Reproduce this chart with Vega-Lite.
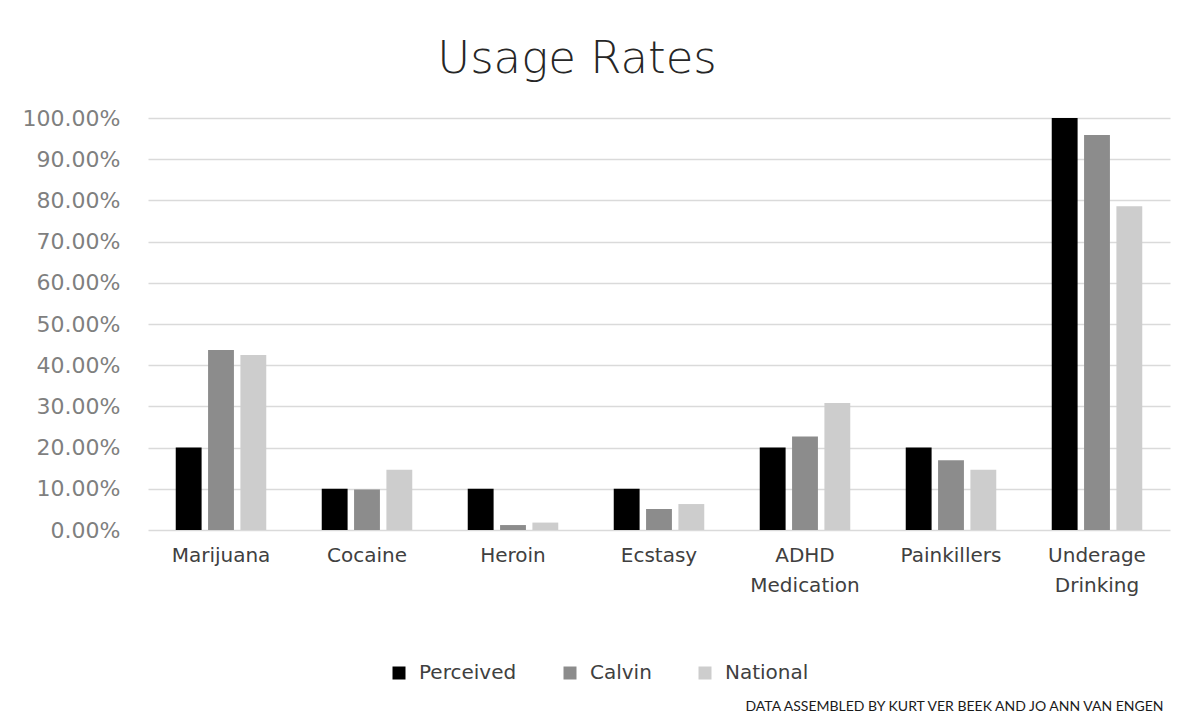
{
  "$schema": "https://vega.github.io/schema/vega-lite/v6.json",
  "autosize": {"type": "none"},
  "padding": {"left": 148, "top": 118, "right": 11, "bottom": 192},
  "width": 1022,
  "height": 412,
  "background": "white",
  "title": {
    "text": "Usage Rates",
    "font": "DejaVu Sans",
    "fontWeight": 200,
    "fontSize": 45,
    "color": "#262626",
    "anchor": "middle",
    "dx": -82,
    "baseline": "alphabetic",
    "offset": -11
  },
  "data": {
    "values": [
      {"drug": "Marijuana", "group": "Perceived", "rate": 0.20},
      {"drug": "Marijuana", "group": "Calvin", "rate": 0.437},
      {"drug": "Marijuana", "group": "National", "rate": 0.425},
      {"drug": "Cocaine", "group": "Perceived", "rate": 0.10},
      {"drug": "Cocaine", "group": "Calvin", "rate": 0.098},
      {"drug": "Cocaine", "group": "National", "rate": 0.146},
      {"drug": "Heroin", "group": "Perceived", "rate": 0.10},
      {"drug": "Heroin", "group": "Calvin", "rate": 0.012},
      {"drug": "Heroin", "group": "National", "rate": 0.018},
      {"drug": "Ecstasy", "group": "Perceived", "rate": 0.10},
      {"drug": "Ecstasy", "group": "Calvin", "rate": 0.051},
      {"drug": "Ecstasy", "group": "National", "rate": 0.063},
      {"drug": "ADHD Medication", "group": "Perceived", "rate": 0.20},
      {"drug": "ADHD Medication", "group": "Calvin", "rate": 0.227},
      {"drug": "ADHD Medication", "group": "National", "rate": 0.308},
      {"drug": "Painkillers", "group": "Perceived", "rate": 0.20},
      {"drug": "Painkillers", "group": "Calvin", "rate": 0.169},
      {"drug": "Painkillers", "group": "National", "rate": 0.146},
      {"drug": "Underage Drinking", "group": "Perceived", "rate": 1.0},
      {"drug": "Underage Drinking", "group": "Calvin", "rate": 0.959},
      {"drug": "Underage Drinking", "group": "National", "rate": 0.786}
    ]
  },
  "mark": {"type": "bar"},
  "encoding": {
    "x": {
      "field": "drug",
      "type": "nominal",
      "sort": ["Marijuana", "Cocaine", "Heroin", "Ecstasy", "ADHD Medication", "Painkillers", "Underage Drinking"],
      "scale": {"paddingInner": 0.38, "paddingOuter": 0.19},
      "axis": {
        "title": "DATA ASSEMBLED BY KURT VER BEEK AND JO ANN VAN ENGEN",
        "titleFont": "Lato",
        "titleFontSize": 14,
        "titleFontWeight": "normal",
        "titleColor": "#1a1a1a",
        "titleAnchor": null,
        "titleAlign": "left",
        "titleBaseline": "alphabetic",
        "titleX": 597,
        "titleY": 180,
        "labelAngle": 0,
        "labelFont": "DejaVu Sans",
        "labelFontSize": 20,
        "labelColor": "#404040",
        "labelPadding": 15,
        "labelLineHeight": 30,
        "labelExpr": "split(datum.label, ' ')",
        "ticks": false,
        "domain": false,
        "grid": false
      }
    },
    "xOffset": {
      "field": "group",
      "type": "nominal",
      "sort": ["Perceived", "Calvin", "National"],
      "scale": {"paddingInner": 0.2, "paddingOuter": 0}
    },
    "y": {
      "field": "rate",
      "type": "quantitative",
      "scale": {"domain": [0, 1], "nice": false},
      "axis": {
        "title": null,
        "format": ".2%",
        "values": [0, 0.1, 0.2, 0.3, 0.4, 0.5, 0.6, 0.7, 0.8, 0.9, 1.0],
        "labelFont": "DejaVu Sans",
        "labelFontSize": 22,
        "labelColor": "#7f7f7f",
        "labelPadding": 28,
        "ticks": false,
        "domain": false,
        "grid": true,
        "gridColor": "#dadada",
        "gridWidth": 1.6
      }
    },
    "color": {
      "field": "group",
      "type": "nominal",
      "sort": ["Perceived", "Calvin", "National"],
      "scale": {"domain": ["Perceived", "Calvin", "National"], "range": ["#000000", "#8c8c8c", "#cdcdcd"]},
      "legend": {
        "title": null,
        "orient": "none",
        "direction": "horizontal",
        "legendX": 241,
        "legendY": 545,
        "symbolType": "square",
        "symbolSize": 169,
        "symbolStrokeWidth": 0,
        "labelFont": "DejaVu Sans",
        "labelFontSize": 20,
        "labelColor": "#404040",
        "labelOffset": 10,
        "columnPadding": 43,
        "padding": 0
      }
    }
  },
  "config": {
    "view": {"stroke": null}
  }
}
